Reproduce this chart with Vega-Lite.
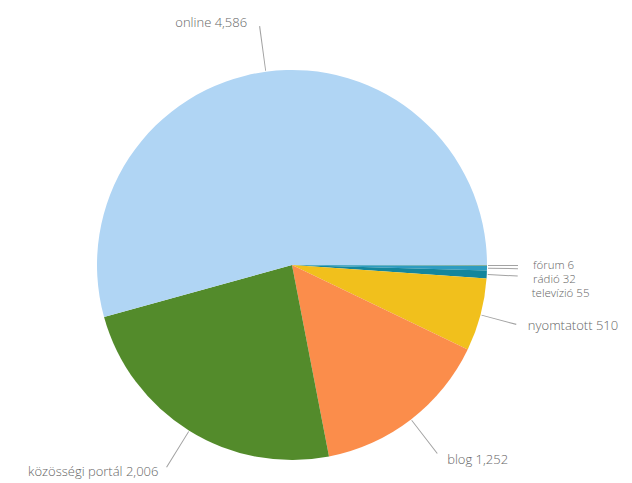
{
  "$schema": "https://vega.github.io/schema/vega-lite/v6.json",
  "width": 584,
  "height": 436,
  "autosize": {"type": "none"},
  "padding": {"left": 0, "top": 47, "right": 48, "bottom": 0},
  "background": "white",
  "config": {"view": {"stroke": null}, "text": {"font": "Open Sans", "fontSize": 13, "fontWeight": 300, "color": "#666666", "baseline": "middle"}},
  "data": {
    "values": [
      {"cat": "fórum", "value": 6, "label": "fórum 6"},
      {"cat": "rádió", "value": 32, "label": "rádió 32"},
      {"cat": "televízió", "value": 55, "label": "televízió 55"},
      {"cat": "nyomtatott", "value": 510, "label": "nyomtatott 510"},
      {"cat": "blog", "value": 1252, "label": "blog 1,252"},
      {"cat": "közösségi portál", "value": 2006, "label": "közösségi portál 2,006"},
      {"cat": "online", "value": 4586, "label": "online 4,586"}
    ]
  },
  "transform": [
    {"stack": "value", "groupby": [], "sort": [{"field": "value", "order": "ascending"}], "as": ["v0", "v1"]}
  ],
  "layer": [
    {
      "mark": {"type": "arc", "outerRadius": 195},
      "encoding": {
        "theta": {"field": "v0", "type": "quantitative", "scale": {"range": [1.5707963, 7.8539816], "zero": true, "nice": false}},
        "theta2": {"field": "v1"},
        "color": {
          "field": "cat",
          "type": "nominal",
          "scale": {
            "domain": ["online", "közösségi portál", "blog", "nyomtatott", "televízió", "rádió", "fórum"],
            "range": ["#b0d5f4", "#538b2b", "#fb8d4b", "#f1c01c", "#14869c", "#2e9cc0", "#8a9f62"]
          },
          "legend": null
        }
      }
    },
    {
      "transform": [{"filter": "datum.cat === 'online'"}],
      "mark": {"type": "arc", "innerRadius": 196, "outerRadius": 241, "thetaOffset": 1.70332, "theta2Offset": -1.70332, "color": "#a3a3a3"},
      "encoding": {"theta": {"field": "v0", "type": "quantitative"}, "theta2": {"field": "v1"}}
    },
    {
      "transform": [{"filter": "datum.cat === 'közösségi portál'"}],
      "mark": {"type": "arc", "innerRadius": 196, "outerRadius": 238, "thetaOffset": 0.74377, "theta2Offset": -0.74377, "color": "#a3a3a3"},
      "encoding": {"theta": {"field": "v0", "type": "quantitative"}, "theta2": {"field": "v1"}}
    },
    {
      "transform": [{"filter": "datum.cat === 'blog'"}],
      "mark": {"type": "arc", "innerRadius": 196, "outerRadius": 238, "thetaOffset": 0.46334, "theta2Offset": -0.46334, "color": "#a3a3a3"},
      "encoding": {"theta": {"field": "v0", "type": "quantitative"}, "theta2": {"field": "v1"}}
    },
    {
      "transform": [{"filter": "datum.cat === 'nyomtatott'"}],
      "mark": {"type": "arc", "innerRadius": 196, "outerRadius": 232, "thetaOffset": 0.18738, "theta2Offset": -0.18738, "color": "#a3a3a3"},
      "encoding": {"theta": {"field": "v0", "type": "quantitative"}, "theta2": {"field": "v1"}}
    },
    {
      "transform": [{"filter": "datum.cat === 'televízió'"}],
      "mark": {"type": "arc", "innerRadius": 196, "outerRadius": 226, "thetaOffset": 0.01816, "theta2Offset": -0.01816, "color": "#a3a3a3"},
      "encoding": {"theta": {"field": "v0", "type": "quantitative"}, "theta2": {"field": "v1"}}
    },
    {
      "transform": [{"filter": "datum.cat === 'rádió'"}],
      "mark": {"type": "arc", "innerRadius": 196, "outerRadius": 226, "thetaOffset": 0.0096, "theta2Offset": -0.0096, "color": "#a3a3a3"},
      "encoding": {"theta": {"field": "v0", "type": "quantitative"}, "theta2": {"field": "v1"}}
    },
    {
      "transform": [{"filter": "datum.cat === 'fórum'"}],
      "mark": {"type": "arc", "innerRadius": 196, "outerRadius": 226, "thetaOffset": -0.00007, "theta2Offset": 0.00007, "color": "#a3a3a3"},
      "encoding": {"theta": {"field": "v0", "type": "quantitative"}, "theta2": {"field": "v1"}}
    },
    {
      "mark": {"type": "text", "radius": 244.5, "align": "right", "dx": -12},
      "encoding": {
        "theta": {"field": "value", "type": "quantitative", "stack": true},
        "order": {"field": "value", "sort": "ascending"},
        "text": {"condition": {"test": "datum.cat === 'online'", "field": "label"}, "value": ""}
      }
    },
    {
      "mark": {"type": "text", "radius": 244, "align": "right", "dx": -5},
      "encoding": {
        "theta": {"field": "value", "type": "quantitative", "stack": true},
        "order": {"field": "value", "sort": "ascending"},
        "text": {"condition": {"test": "datum.cat === 'közösségi portál'", "field": "label"}, "value": ""}
      }
    },
    {
      "mark": {"type": "text", "radius": 246, "align": "left", "dx": 5},
      "encoding": {
        "theta": {"field": "value", "type": "quantitative", "stack": true},
        "order": {"field": "value", "sort": "ascending"},
        "text": {"condition": {"test": "datum.cat === 'blog'", "field": "label"}, "value": ""}
      }
    },
    {
      "mark": {"type": "text", "radius": 244, "align": "left", "dy": -1},
      "encoding": {
        "theta": {"field": "value", "type": "quantitative", "stack": true},
        "order": {"field": "value", "sort": "ascending"},
        "text": {"condition": {"test": "datum.cat === 'nyomtatott'", "field": "label"}, "value": ""}
      }
    },
    {
      "mark": {"type": "text", "radius": 240, "align": "left", "dy": 17.3, "fontSize": 11.5},
      "encoding": {
        "theta": {"field": "value", "type": "quantitative", "stack": true},
        "order": {"field": "value", "sort": "ascending"},
        "text": {"condition": {"test": "datum.cat === 'televízió'", "field": "label"}, "value": ""}
      }
    },
    {
      "mark": {"type": "text", "radius": 241, "align": "left", "dy": 11, "fontSize": 11.5},
      "encoding": {
        "theta": {"field": "value", "type": "quantitative", "stack": true},
        "order": {"field": "value", "sort": "ascending"},
        "text": {"condition": {"test": "datum.cat === 'rádió'", "field": "label"}, "value": ""}
      }
    },
    {
      "mark": {"type": "text", "radius": 241, "align": "left", "dy": 0.5, "fontSize": 11.5},
      "encoding": {
        "theta": {"field": "value", "type": "quantitative", "stack": true},
        "order": {"field": "value", "sort": "ascending"},
        "text": {"condition": {"test": "datum.cat === 'fórum'", "field": "label"}, "value": ""}
      }
    }
  ]
}
